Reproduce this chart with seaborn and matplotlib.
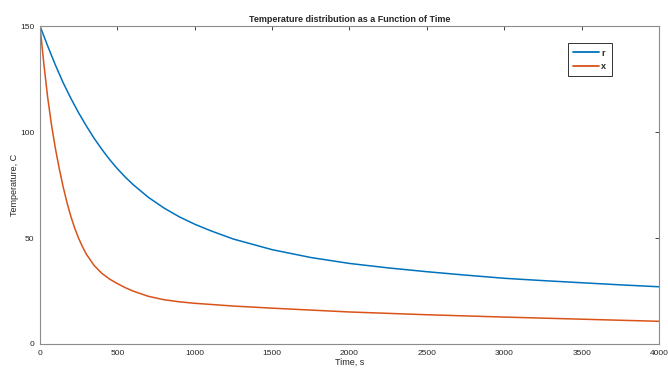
import numpy as np
import pandas as pd
import seaborn as sns
import matplotlib.pyplot as plt

# values
time_r = [0, 50, 100, 150, 200, 250, 300, 350, 400, 450, 500, 550, 600, 700,
          800, 900, 1000, 1100, 1250, 1500, 1750, 2000, 2250, 2500, 2750,
          3000, 3250, 3500, 3750, 4000]
temp_r = [150, 140.5, 131.5, 123.2, 115.8, 109, 102.8, 97, 91.8, 87, 82.7,
          78.8, 75.3, 69.2, 64.2, 60, 56.5, 53.5, 49.5, 44.5, 40.8, 38, 35.9,
          34.1, 32.5, 31, 29.9, 28.9, 27.9, 27]

time_x = [0, 25, 50, 75, 100, 125, 150, 175, 200, 225, 250, 275, 300, 350,
          400, 450, 500, 550, 600, 700, 800, 900, 1000, 1250, 1500, 2000,
          2500, 3000, 3500, 4000]
temp_x = [150, 132, 116, 103, 92, 82.5, 74, 66.5, 60, 54.5, 49.8, 45.8, 42.3,
          37, 33.3, 30.6, 28.5, 26.6, 25, 22.5, 20.9, 19.9, 19.2, 17.9, 16.9,
          15.1, 13.8, 12.7, 11.7, 10.7]

x_ticks = [0, 500, 1000, 1500, 2000, 2500, 3000, 3500, 4000]
y_ticks = [0, 50, 100, 150]

df = pd.concat([
    pd.DataFrame({'Time': time_r, 'Temp': temp_r, 'series': 'r'}),
    pd.DataFrame({'Time': time_x, 'Temp': temp_x, 'series': 'x'}),
])

sns.set_style('white')
plt.rcParams['font.family'] = ['Liberation Sans', 'DejaVu Sans']

fig = plt.figure(figsize=(6.68, 3.71), dpi=100)
ax = fig.add_axes([0.0599, 0.0728, 0.9266, 0.857])

sns.lineplot(data=df, x='Time', y='Temp', hue='series',
             palette={'r': '#0072BD', 'x': '#D95319'},
             linewidth=1.1, ax=ax)

ax.set_xlim(0, 4000)
ax.set_ylim(0, 150)
ax.set_xticks(x_ticks)
ax.set_yticks(y_ticks)
ax.tick_params(direction='in', length=3, width=0.6, top=True, right=True,
               labelsize=6, colors='#262626', pad=4)
for s in ax.spines.values():
    s.set_color('#8c8c8c')
    s.set_linewidth(0.8)

ax.set_title('Temperature distribution as a Function of Time',
             fontsize=6.5, fontweight='bold', pad=3)
ax.set_xlabel('Time, s', fontsize=6.5, labelpad=1)
ax.set_ylabel('Temperature, C', fontsize=6.5, labelpad=1)

leg = ax.legend(loc='upper left', bbox_to_anchor=(0.853, 0.946),
                borderaxespad=0, fontsize=6.5, handlelength=2.8,
                handletextpad=0.3, borderpad=0.6, labelspacing=0.45,
                fancybox=False, frameon=True, edgecolor='black', title=None)
leg.get_frame().set_linewidth(0.7)
for t in leg.get_texts():
    t.set_fontweight('bold')
for ln in leg.get_lines():
    ln.set_linewidth(1.3)

fig.savefig('out.png', dpi=100)
